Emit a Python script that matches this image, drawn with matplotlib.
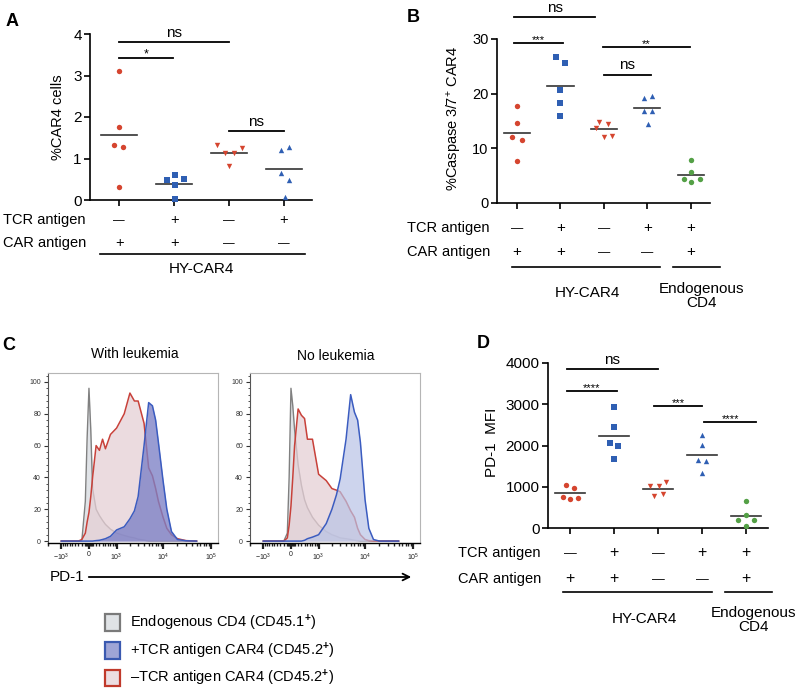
import numpy as np
import matplotlib
matplotlib.use('Agg')
import matplotlib.pyplot as plt
from matplotlib.patches import Patch, FancyArrowPatch
from matplotlib.transforms import blended_transform_factory
from matplotlib.ticker import MultipleLocator

plt.rcParams['font.family'] = ['Liberation Sans', 'DejaVu Sans']
plt.rcParams['mathtext.fontset'] = 'custom'
plt.rcParams['mathtext.rm'] = 'Liberation Sans'
plt.rcParams['mathtext.bf'] = 'Liberation Sans:bold'
plt.rcParams['mathtext.it'] = 'Liberation Sans:italic'

RED = '#d5452f'
BLUE = '#2f5fb3'
GREEN = '#54a046'

# ---------------- data ----------------
# panel A: %CAR4 cells
a_tcr = ['–', '+', '–', '+']
a_car = ['+', '+', '–', '–']
a_values = [
    [3.10, 1.77, 1.32, 1.27, 0.32],
    [0.60, 0.51, 0.47, 0.35, 0.02],
    [1.33, 1.26, 1.13, 1.13, 0.83],
    [1.27, 1.20, 0.66, 0.48, 0.08],
]
a_sig = [(0, 2, 3.80, 'ns'), (0, 0.98, 3.42, '*'), (2, 3, 1.66, 'ns')]

# panel B: %Caspase 3/7+ CAR4
b_tcr = ['–', '+', '–', '+', '+']
b_car = ['+', '+', '–', '–', '+']
b_values = [
    [17.8, 14.6, 12.1, 11.5, 7.6],
    [26.7, 25.6, 20.7, 18.3, 16.0],
    [14.9, 14.5, 13.8, 12.1, 12.3],
    [19.6, 19.2, 16.8, 16.8, 14.5],
    [7.8, 5.6, 4.3, 4.3, 3.8],
]
b_sig = [(-0.07, 1.8, 34.0, 'ns'), (-0.07, 1.06, 29.2, '***'),
         (1.98, 3.98, 28.6, '**'), (2, 3.08, 23.5, 'ns')]

# panel D: PD-1 MFI
d_tcr = ['–', '+', '–', '+', '+']
d_car = ['+', '+', '–', '–', '+']
d_values = [
    [1034, 978, 751, 711, 727],
    [2941, 2457, 2061, 1996, 1673],
    [1010, 1123, 1026, 767, 824],
    [2246, 2020, 1657, 1632, 1333],
    [646, 315, 202, 186, 57],
]
d_sig = [(-0.07, 2.0, 3863, 'ns'), (-0.07, 1.07, 3329, '****'),
         (1.91, 3.0, 2949, '***'), (3.05, 4.23, 2578, '****')]

# panel C: PD-1 histograms (% of max)
pd1 = [-1000, -500, -300, -200, -100, -50, 0, 50, 100, 200, 300, 400, 500, 700,
       1000, 1500, 2000, 2500, 3000, 4000, 5000, 6000, 7000, 8000, 10000,
       12000, 15000, 20000, 30000, 50000]
leuk_endo = [0, 0, 0, 0, 25, 65, 96, 70, 33, 20, 16, 13, 10.5, 7.5,
             5, 3.5, 2.5, 2, 1.2, 0.6, 0, 0, 0, 0, 0, 0, 0, 0, 0, 0]
leuk_minus = [0, 0, 0, 1, 5, 12, 18, 28, 40, 60, 57, 64, 58, 67,
              71, 80, 93, 88, 88, 74, 46, 41, 33, 25, 15, 8, 4, 1.5, 0.3, 0]
leuk_plus = [0, 0, 0, 0, 0, 0, 0, 0, 0, 0.3, 0.5, 1, 1.5, 3,
             7, 9, 14, 19, 28, 60, 87, 85, 76, 62, 38, 20, 6, 1, 0.2, 0]
noleuk_endo = [0, 0, 0, 0, 5, 40, 96, 85, 70, 48, 35, 26, 21, 15,
               10, 6, 4, 3, 2, 1.5, 1, 0.5, 0.3, 0, 0, 0, 0, 0, 0, 0]
noleuk_minus = [0, 0, 0, 0, 2, 10, 22, 40, 60, 83, 79, 77, 64, 64,
                42, 38, 33, 32, 31, 25, 19, 15, 8, 4, 1, 0.3, 0, 0, 0, 0]
noleuk_plus = [0, 0, 0, 0, 0, 0, 0, 0, 0, 0, 0, 0.5, 1.5, 2.5,
               4, 11, 20, 29, 39, 64, 92, 81, 76, 62, 26, 8, 1, 0, 0, 0]

# jitter of the scatter points (horizontal spread, group units)
a_jit = [[0, 0, -0.09, 0.07, 0], [0.02, 0.18, -0.12, 0.02, 0.02],
         [-0.21, 0.24, -0.07, 0.09, 0], [0.1, -0.06, -0.06, 0.1, 0.02]]
b_jit = [[0, 0, -0.11, 0.11, 0], [-0.1, 0.1, 0, 0, 0],
         [-0.11, 0.1, -0.18, 0, 0.18], [0.11, -0.07, -0.07, 0.11, 0.02],
         [0, 0, -0.15, 0.2, 0]]
d_jit = [[-0.09, 0.1, -0.17, 0, 0.19], [0, 0, -0.1, 0.09, 0],
         [-0.19, 0.19, 0.02, -0.08, 0.11], [0, 0, -0.09, 0.1, 0],
         [0, 0, -0.18, 0.18, 0]]

W, H = 800, 691
fig = plt.figure(figsize=(W / 100, H / 100), dpi=100)


def fx(px):
    return px / W


def fy(py):
    return 1 - py / H


def axes_px(x0, x1, y0, y1):
    # x0/x1 left/right, y0 top, y1 bottom in pixels
    return fig.add_axes([fx(x0), fy(y1), (x1 - x0) / W, (y1 - y0) / H])


def dot_panel(ax, values, jit, markers, colors, half, sig, tick_fs, star_fs):
    for i, vals in enumerate(values):
        xs = [i + j for j in jit[i]]
        ax.scatter(xs, vals, marker=markers[i], s=15, color=colors[i],
                   linewidths=0, zorder=3, clip_on=False)
        ax.plot([i - half, i + half], [np.mean(vals)] * 2, color='#333333',
                lw=1.2, zorder=2)
    for g0, g1, y, lab in sig:
        ax.plot([g0, g1], [y, y], color='black', lw=1.3, clip_on=False)
        if lab == 'ns':
            ax.annotate(lab, ((g0 + g1) / 2, y), xytext=(0, 1.5),
                        textcoords='offset points', ha='center', va='bottom',
                        fontsize=11, annotation_clip=False)
        else:
            ax.annotate(lab, ((g0 + g1) / 2, y), xytext=(0, -1.5),
                        textcoords='offset points', ha='center', va='bottom',
                        fontsize=star_fs, annotation_clip=False)
    for s in ['top', 'right']:
        ax.spines[s].set_visible(False)
    for s in ['left', 'bottom']:
        ax.spines[s].set_linewidth(1.2)
    ax.set_xticks(range(len(values)))
    ax.set_xticklabels([])
    ax.tick_params(axis='both', direction='out', length=4, width=1.2,
                   labelsize=tick_fs, pad=2)


def rows(ax, tcr, car, label_px, y_tcr, y_car, fs, sym_fs):
    tr = blended_transform_factory(ax.transData, fig.transFigure)
    fig.text(fx(label_px), fy(y_tcr), 'TCR antigen', fontsize=fs, va='center')
    fig.text(fx(label_px), fy(y_car), 'CAR antigen', fontsize=fs, va='center')
    for i, (t, c) in enumerate(zip(tcr, car)):
        for sym, yy in [(t, y_tcr), (c, y_car)]:
            if sym == '+':
                ax.text(i, fy(yy), '+', transform=tr, ha='center',
                        va='center', fontsize=sym_fs)
            else:
                ax.text(i, fy(yy + 1), '—', transform=tr, ha='center',
                        va='center', fontsize=sym_fs * 0.8)
    return tr


# ---------------- panel A ----------------
axA = axes_px(90, 312, 34, 200)
dot_panel(axA, a_values, a_jit, ['o', 's', 'v', '^'], [RED, BLUE, RED, BLUE],
          0.33, a_sig, 11, 9)
axA.set_xlim(-0.53, 3.51)
axA.set_ylim(0, 4)
axA.set_yticks([0, 1, 2, 3, 4])
fig.text(fx(58), fy(117), '%CAR4 cells', rotation=90, ha='center',
         va='center', fontsize=10.5)
trA = rows(axA, a_tcr, a_car, 3, 220, 243, 10.5, 10.5)
axA.plot([-0.35, 3.38], [fy(254)] * 2, transform=trA, color='black', lw=1.2,
         clip_on=False)
axA.text(1.5, fy(269), 'HY-CAR4', transform=trA, ha='center', va='center',
         fontsize=11)

# ---------------- panel B ----------------
axB = axes_px(497, 710, 39, 203)
dot_panel(axB, b_values, b_jit, ['o', 's', 'v', '^', 'o'],
          [RED, BLUE, RED, BLUE, GREEN], 0.3, b_sig, 10.5, 8)
axB.set_xlim(-0.46, 4.44)
axB.set_ylim(0, 30)
axB.set_yticks([0, 10, 20, 30])
fig.text(fx(455), fy(118), '%Caspase 3/7$^{+}$ CAR4', rotation=90,
         ha='center', va='center', fontsize=10.5)
trB = rows(axB, b_tcr, b_car, 407, 228, 252, 10.5, 11)
axB.plot([-0.11, 3.29], [fy(267)] * 2, transform=trB, color='black', lw=1.2,
         clip_on=False)
axB.plot([3.59, 4.67], [fy(267)] * 2, transform=trB, color='black', lw=1.2,
         clip_on=False)
axB.text(1.61, fy(293), 'HY-CAR4', transform=trB, ha='center', va='center',
         fontsize=11)
axB.text(4.25, fy(296), 'Endogenous\nCD4', transform=trB, ha='center',
         va='center', fontsize=11, linespacing=1.05)

# ---------------- panel D ----------------
axD = axes_px(548, 768, 363, 528)
dot_panel(axD, d_values, d_jit, ['o', 's', 'v', '^', 'o'],
          [RED, BLUE, RED, BLUE, GREEN], 0.33, d_sig, 11, 8)
axD.set_xlim(-0.5, 4.5)
axD.set_ylim(0, 4000)
axD.set_yticks([0, 1000, 2000, 3000, 4000])
fig.text(fx(492), fy(442), 'PD-1  MFI', rotation=90, ha='center',
         va='center', fontsize=11)
trD = rows(axD, d_tcr, d_car, 458, 553, 579, 10.5, 11.5)
axD.plot([-0.16, 3.23], [fy(592)] * 2, transform=trD, color='black', lw=1.2,
         clip_on=False)
axD.plot([3.52, 4.59], [fy(592)] * 2, transform=trD, color='black', lw=1.2,
         clip_on=False)
axD.text(1.70, fy(619), 'HY-CAR4', transform=trD, ha='center', va='center',
         fontsize=11)
axD.text(4.16, fy(620), 'Endogenous\nCD4', transform=trD, ha='center',
         va='center', fontsize=11, linespacing=1.05)

# ---------------- panel C ----------------
GRAY_EDGE = '#808080'
GRAY_FACE = '#d9dde2'
RED_EDGE = '#c8413a'
RED_FACE = '#e5cfd5'
BLUE_EDGE = '#3b5cc0'

minor_x = ([-v for v in range(200, 1000, 100)] + [-2000]
           + list(range(-100, 101, 25))
           + list(range(200, 1000, 100)) + list(range(2000, 10000, 1000))
           + list(range(20000, 100000, 10000)))


def hist_panel(ax, endo, minus, plus, blue_face, blue_alpha):
    ax.fill_between(pd1, endo, color=GRAY_FACE, alpha=0.8, lw=0, zorder=1)
    ax.plot(pd1, endo, color=GRAY_EDGE, lw=1.0, zorder=2)
    ax.fill_between(pd1, minus, color=RED_FACE, alpha=0.75, lw=0, zorder=3)
    ax.plot(pd1, minus, color=RED_EDGE, lw=1.1, zorder=4)
    ax.fill_between(pd1, plus, color=blue_face, alpha=blue_alpha, lw=0,
                    zorder=5)
    ax.plot(pd1, plus, color=BLUE_EDGE, lw=1.1, zorder=6)
    ax.set_xscale('asinh', linear_width=571)
    ax.set_xlim(-2000, 140000)
    ax.set_ylim(-1.2, 105.6)
    ax.set_xticks([-1000, 0, 1000, 10000, 100000])
    ax.set_xticklabels(['$-10^3$', '0', '$10^3$', '$10^4$', '$10^5$'])
    ax.set_xticks(minor_x, minor=True)
    ax.set_yticks([0, 20, 40, 60, 80, 100])
    ax.yaxis.set_minor_locator(MultipleLocator(4))
    ax.tick_params(axis='x', which='major', length=4, width=1.6,
                   labelsize=5, pad=2, colors='#222222')
    ax.tick_params(axis='x', which='minor', length=2.5, width=1.0,
                   color='#222222')
    ax.tick_params(axis='y', which='major', length=3, width=0.8,
                   labelsize=5, pad=2, colors='#333333')
    ax.tick_params(axis='y', which='minor', length=1.5, width=0.6,
                   color='#333333')
    for s in ['top', 'right']:
        ax.spines[s].set_color('#b5b5b5')
        ax.spines[s].set_linewidth(0.8)
    ax.spines['left'].set_color('#555555')
    ax.spines['left'].set_linewidth(0.8)
    ax.spines['bottom'].set_linewidth(1.0)


axC1 = axes_px(48, 218, 373, 543)
hist_panel(axC1, leuk_endo, leuk_minus, leuk_plus, '#7c80c6', 0.78)
axC2 = axes_px(250, 420, 373, 543)
hist_panel(axC2, noleuk_endo, noleuk_minus, noleuk_plus, '#b8c3e6', 0.7)

fig.text(fx(135), fy(354), 'With leukemia', ha='center', va='center',
         fontsize=10)
fig.text(fx(336), fy(356), 'No leukemia', ha='center', va='center',
         fontsize=10)
fig.text(fx(50), fy(577), 'PD-1', ha='left', va='center', fontsize=11)
fig.add_artist(FancyArrowPatch((fx(86), fy(577)), (fx(414), fy(577)),
                               transform=fig.transFigure, arrowstyle='->',
                               mutation_scale=12, lw=1.3, color='black'))

handles = [Patch(facecolor='#e0e3e6', edgecolor='#7a7a7a', lw=1.6),
           Patch(facecolor='#9fa5d6', edgecolor='#3a59b0', lw=1.6),
           Patch(facecolor='#ecdde1', edgecolor='#c0392b', lw=1.6)]
labels = ['Endogenous CD4 (CD45.1$^{\\mathbf{+}}$)',
          '+TCR antigen CAR4 (CD45.2$^{\\mathbf{+}}$)',
          '–TCR antigen CAR4 (CD45.2$^{\\mathbf{+}}$)']
fig.legend(handles, labels, loc='upper left',
           bbox_to_anchor=(fx(105), fy(613)), frameon=False, fontsize=10.5,
           handlelength=1.0, handleheight=1.4, handletextpad=0.7,
           labelspacing=0.5, borderaxespad=0, borderpad=0)

# panel letters
for lab, px, py in [('A', 12, 22), ('B', 413, 17), ('C', 9, 345),
                    ('D', 483, 343)]:
    fig.text(fx(px), fy(py), lab, fontsize=13, fontweight='bold',
             ha='center', va='center')

fig.savefig('out.png', dpi=100)
